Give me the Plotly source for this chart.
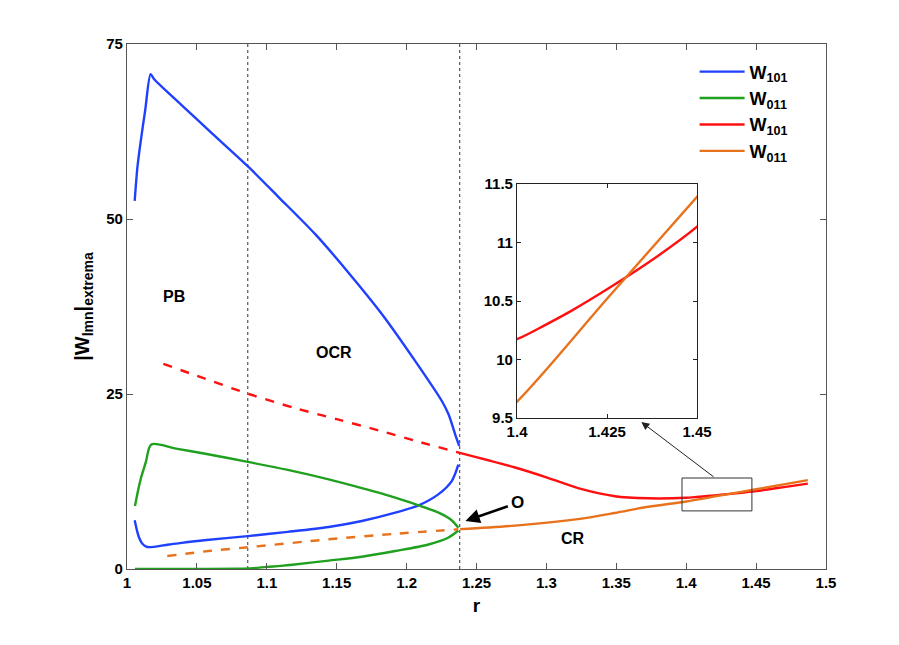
import plotly.graph_objects as go

# ---------------- data ----------------
blue_up_r = [1.0055, 1.0075, 1.0098, 1.0130, 1.0169, 1.0193, 1.0400, 1.0610, 1.0871, 1.1086,
             1.1348, 1.1586, 1.1824, 1.2062, 1.2252, 1.2300, 1.2348, 1.2376]
blue_up_w = [52.6, 57.5, 61.1, 65.5, 70.7, 70.0, 66.1, 62.2, 57.4, 53.1,
             47.8, 42.3, 36.4, 29.7, 24.0, 22.1, 19.2, 17.6]

blue_lo_r = [1.0055, 1.0070, 1.0086, 1.0110, 1.0145, 1.0300, 1.0550, 1.0864, 1.1150, 1.1443,
             1.1680, 1.1919, 1.2086, 1.2229, 1.2324, 1.2370]
blue_lo_w = [6.95, 5.6, 4.5, 3.6, 3.14, 3.5, 4.1, 4.7, 5.3, 6.0,
             6.86, 8.05, 9.1, 10.7, 12.6, 14.9]

green_up_r = [1.0057, 1.0080, 1.0100, 1.0135, 1.0174, 1.0350, 1.0550, 1.0864, 1.1150, 1.1443,
              1.1680, 1.1919, 1.2086, 1.2229, 1.2320, 1.2370]
green_up_w = [9.0, 11.3, 13.0, 15.3, 17.8, 17.2, 16.5, 15.3, 14.15, 12.8,
              11.55, 10.2, 9.1, 8.05, 7.0, 5.9]

green_lo_r = [1.0057, 1.0400, 1.0800, 1.0900, 1.1000, 1.1100, 1.1200, 1.1443, 1.1680, 1.1919,
              1.2157, 1.2300, 1.2370]
green_lo_w = [0.0, 0.0, 0.05, 0.12, 0.3, 0.45, 0.65, 1.2, 1.75, 2.57,
              3.5, 4.5, 5.5]

red_dash_r = [1.026, 1.050, 1.0871, 1.120, 1.150, 1.180, 1.210, 1.238]
red_dash_w = [29.3, 27.6, 25.0, 23.0, 21.4, 19.8, 18.1, 16.6]

orange_dash_r = [1.0288, 1.060, 1.0864, 1.1443, 1.190, 1.237]
orange_dash_w = [1.86, 2.6, 3.1, 4.24, 5.0, 5.67]

red_r = [1.238, 1.2776, 1.300, 1.3253, 1.349, 1.373, 1.390, 1.400, 1.4075, 1.4153,
         1.425, 1.4375, 1.450, 1.470, 1.487]
red_w = [16.6, 14.5, 13.1, 11.4, 10.4, 10.1, 10.1, 10.175, 10.29, 10.42,
         10.60, 10.85, 11.135, 11.7, 12.2]

orange_r = [1.2383, 1.2776, 1.3253, 1.349, 1.373, 1.400, 1.425, 1.450, 1.487]
orange_w = [5.7, 6.2, 7.2, 8.0, 8.9, 9.64, 10.52, 11.39, 12.7]

boundaries = [1.0864, 1.238]
x_ticks = [1, 1.05, 1.1, 1.15, 1.2, 1.25, 1.3, 1.35, 1.4, 1.45, 1.5]
y_ticks = [0, 25, 50, 75]
inset_x_ticks = [1.4, 1.425, 1.45]
inset_y_ticks = [9.5, 10, 10.5, 11, 11.5]
zoom_box = dict(r0=1.397, r1=1.447, w0=8.3, w1=13.0)

# ---------------- style ----------------
BLUE = "#2040ff"
GREEN = "#1fa01f"
RED = "#ff1010"
ORANGE = "#e8721c"
FONT = "Liberation Sans, Arial, Helvetica, sans-serif"
LW = 2.4

fig = go.Figure()

def add(r, w, color, name=None, dash="solid", show=False, xa="x", ya="y"):
    fig.add_trace(go.Scatter(
        x=r, y=w, mode="lines", name=name, showlegend=show,
        line=dict(color=color, width=LW, dash=dash, shape="spline", smoothing=0.8),
        xaxis=xa, yaxis=ya, hoverinfo="skip"))

# main curves
add(blue_up_r, blue_up_w, BLUE, "<b>W<sub>101</sub></b>", show=True)
add(blue_lo_r, blue_lo_w, BLUE)
add(green_up_r, green_up_w, GREEN, "<b>W<sub>011</sub></b>", show=True)
add(green_lo_r, green_lo_w, GREEN)
add(red_r, red_w, RED, "<b>W<sub>101</sub></b>", show=True)
add(orange_r, orange_w, ORANGE, "<b>W<sub>011</sub></b>", show=True)
add(red_dash_r, red_dash_w, RED, dash="dash")
add(orange_dash_r, orange_dash_w, ORANGE, dash="dash")

# inset curves (same data, zoomed axes)
add(red_r, red_w, RED, xa="x2", ya="y2")
add(orange_r, orange_w, ORANGE, xa="x2", ya="y2")

axis_common = dict(
    showline=True, linecolor="#555555", linewidth=1.2, mirror="ticks",
    ticks="inside", ticklen=6, tickcolor="#555555", showgrid=False, zeroline=False,
    tickfont=dict(family=FONT, size=15, color="black"),
)
inset_axis = {**axis_common, "linecolor": "#222222", "tickcolor": "#222222", "ticklen": 4}

fig.update_layout(
    width=899, height=645,
    margin=dict(l=119, r=81, t=36, b=84),
    paper_bgcolor="white", plot_bgcolor="white",
    font=dict(family=FONT, color="black"),
    xaxis=dict(domain=[0, 1], range=[1, 1.5], tickvals=x_ticks,
               ticktext=[f"<b>{t:g}</b>" for t in x_ticks],
               title=dict(text="<b>r</b>", font=dict(size=19), standoff=8), **axis_common),
    yaxis=dict(domain=[0, 1], range=[0, 75], tickvals=y_ticks,
               ticktext=[f"<b>{t:g}</b>" for t in y_ticks],
               title=dict(text="<b>|W<sub>lmn</sub>|<sub>extrema</sub></b>", font=dict(size=20), standoff=11),
               **axis_common),
    xaxis2=dict(domain=[0.558, 0.8155], range=[1.4, 1.45], anchor="y2",
                tickvals=inset_x_ticks, ticktext=[f"<b>{t:g}</b>" for t in inset_x_ticks],
                **inset_axis),
    yaxis2=dict(domain=[0.2876, 0.7333], range=[9.5, 11.5], anchor="x2",
                tickvals=inset_y_ticks, ticktext=[f"<b>{t:g}</b>" for t in inset_y_ticks],
                **inset_axis),
    legend=dict(x=0.812, y=0.982, xanchor="left", yanchor="top",
                bgcolor="rgba(0,0,0,0)", borderwidth=0,
                font=dict(family=FONT, size=18, color="black"),
                itemwidth=45, tracegroupgap=0),
)

# boundaries (dotted vertical lines)
for b in boundaries:
    fig.add_shape(type="line", xref="x", yref="y", x0=b, x1=b, y0=0, y1=75,
                  line=dict(color="#333333", width=1, dash="dot"), layer="below")

# zoom box
fig.add_shape(type="rect", xref="x", yref="y",
              x0=zoom_box["r0"], x1=zoom_box["r1"], y0=zoom_box["w0"], y1=zoom_box["w1"],
              line=dict(color="#333333", width=1))

# arrow from zoom box to inset
fig.add_annotation(xref="x", yref="y", axref="x", ayref="y",
                   x=1.3679, y=21.0, ax=1.4207, ay=zoom_box["w1"],
                   text="", showarrow=True, arrowhead=2, arrowsize=1.6, arrowwidth=1,
                   arrowcolor="#222222")

# O arrow
fig.add_annotation(xref="x", yref="y", axref="x", ayref="y",
                   x=1.2421, y=6.86, ax=1.2795, ay=9.45,
                   text="<b>O</b>", font=dict(family=FONT, size=17, color="black"),
                   showarrow=True, arrowhead=2, arrowsize=1.1, arrowwidth=2.6,
                   arrowcolor="black", standoff=0, startstandoff=2)

# region labels
for txt, rx, wy in [("PB", 1.0336, 38.9), ("OCR", 1.148, 30.9), ("CR", 1.319, 4.4)]:
    fig.add_annotation(xref="x", yref="y", x=rx, y=wy, text=f"<b>{txt}</b>",
                       showarrow=False, font=dict(family=FONT, size=16, color="black"))

fig.write_html("out.html")
